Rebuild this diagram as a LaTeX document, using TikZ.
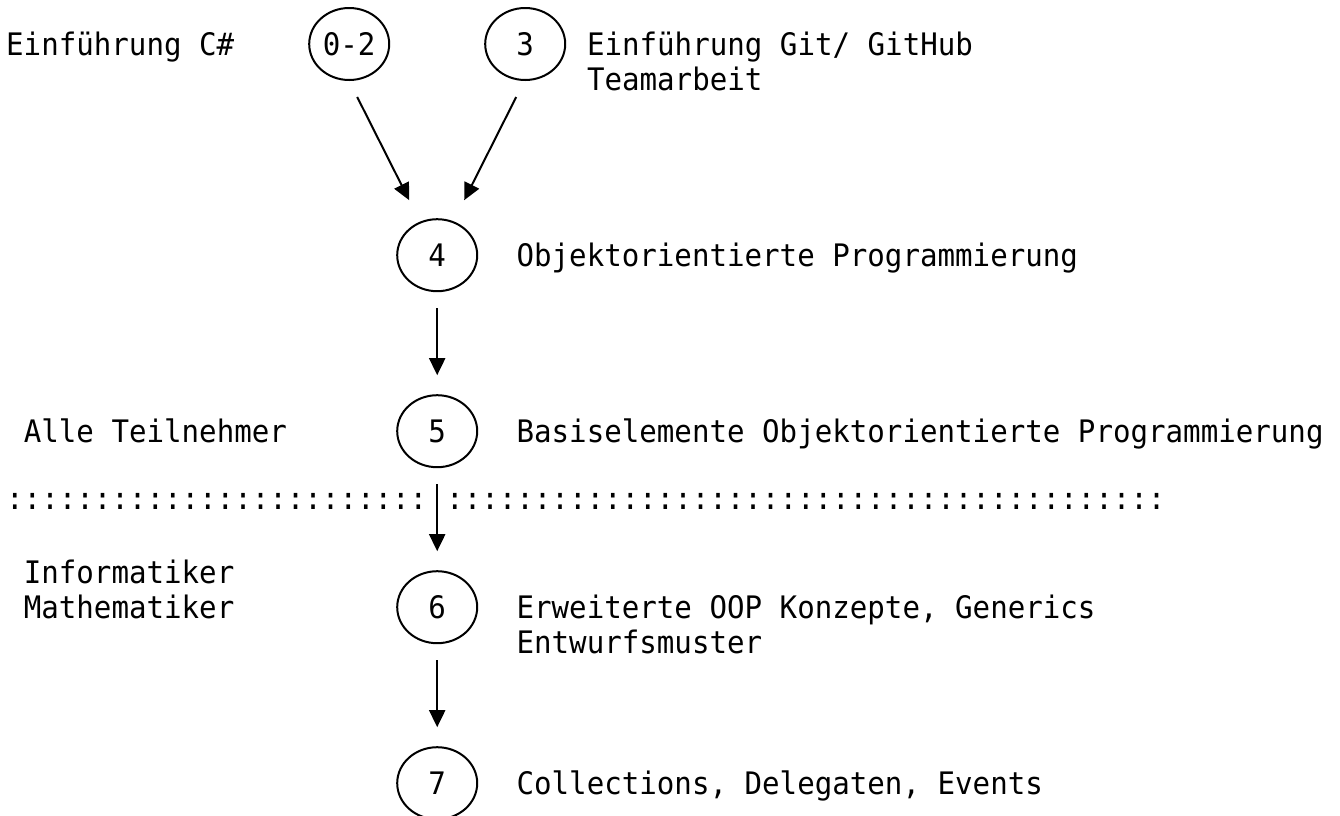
\documentclass[tikz,border=0pt]{standalone}
\usepackage{fontspec}
\newfontfamily\mono[FakeStretch=0.94]{DejaVu Sans Mono}
\usetikzlibrary{shapes.geometric,arrows.meta}

\tikzset{
    knoten/.style={draw, ellipse, line width=2pt, minimum width=80pt, minimum height=72pt, inner sep=0pt},
    txt/.style={anchor=base west, inner sep=0pt},
    pfeil/.style={line width=2pt, -{Triangle[length=17pt,width=16pt]}},
    gerade/.style={pfeil, shorten <=16pt, shorten >=19pt},
}

\begin{document}
\begin{tikzpicture}[x=17.6pt, y=-35.2pt, font=\mono\fontsize{31pt}{35.2pt}\selectfont]
        \useasboundingbox (-0.341,-1.25) rectangle (75.795,21.93);

        % Kapitel
        \node[knoten] (k02) at (19.5, 0) {0-2};
        \node[knoten] (k3)  at (29.5, 0) {3};
        \node[knoten] (k4)  at (24.5, 6) {4};
        \node[knoten] (k5)  at (24.5,11) {5};
        \node[knoten] (k6)  at (24.5,16) {6};
        \node[knoten] (k7)  at (24.5,21) {7};

        % Beschriftungen
        \node[txt] (einf)  at ( 0, 0.32) {Einführung C\#};
        \node[txt] (git)   at (33, 0.32) {Einführung Git/ GitHub};
        \node[txt] (team)  at (33, 1.32) {Teamarbeit};
        \node[txt] (oop)   at (29, 6.32) {Objektorientierte Programmierung};
        \node[txt] (alle)  at ( 1,11.32) {Alle Teilnehmer};
        \node[txt] (basis) at (29,11.32) {Basiselemente Objektorientierte Programmierung};
        \node[txt] (info)  at ( 1,15.32) {Informatiker};
        \node[txt] (mathe) at ( 1,16.32) {Mathematiker};
        \node[txt] (erw)   at (29,16.32) {Erweiterte OOP Konzepte, Generics};
        \node[txt] (entw)  at (29,17.32) {Entwurfsmuster};
        \node[txt] (coll)  at (29,21.32) {Collections, Delegaten, Events};

        % Trennlinie
        \node[txt] (trennL) at ( 0,13.23) {::::::::::::::::::::::::};
        \node[txt] (trennR) at (25,13.23) {:::::::::::::::::::::::::::::::::::::::::};

        % Pfeile
        \draw[pfeil] ([shift={(8pt,-53pt)}]k02.center) -- ([shift={(-28pt,55pt)}]k4.center);
        \draw[pfeil] ([shift={(-9pt,-53pt)}]k3.center) -- ([shift={(27pt,55pt)}]k4.center);
        \draw[gerade] (k4) -- (k5);
        \draw[gerade] (k5) -- (k6);
        \draw[gerade] (k6) -- (k7);
    \end{tikzpicture}
\end{document}
